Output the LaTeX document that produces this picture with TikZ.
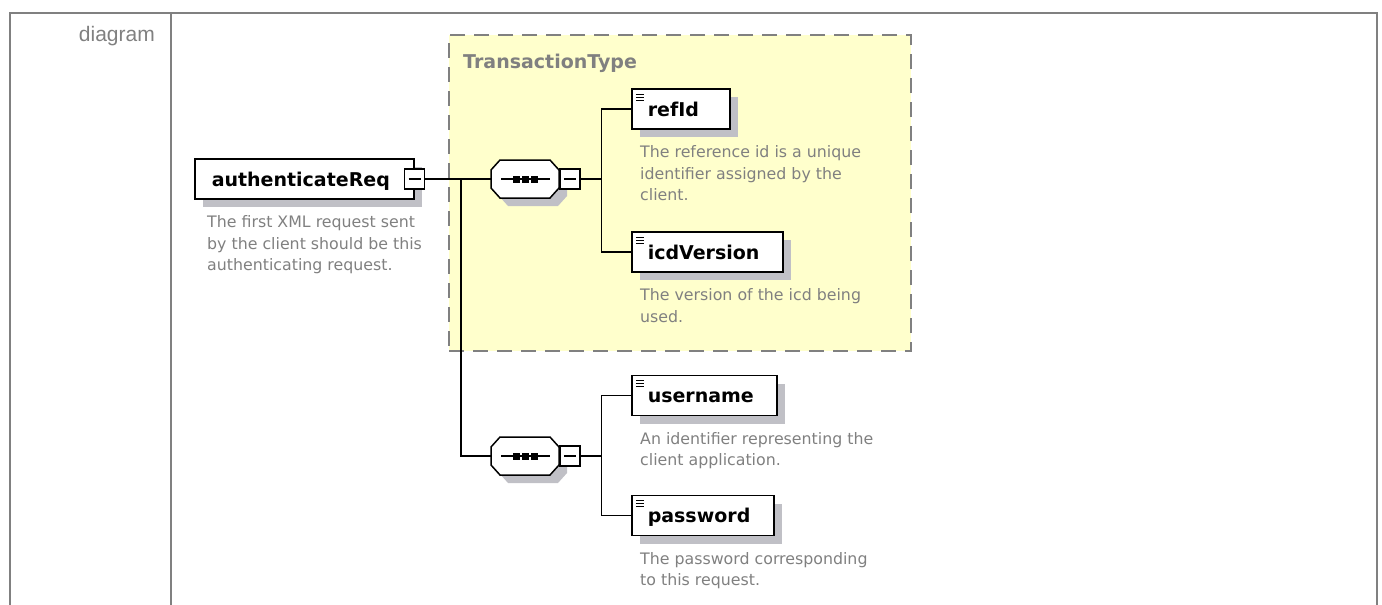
\documentclass[tikz,border=0pt]{standalone}
\usepackage{fontspec}
\setmainfont{DejaVu Sans}
\newfontfamily\cellfont{Liberation Sans}
\usetikzlibrary{shadows,calc}
\definecolor{framegray}{RGB}{128,128,128}
\definecolor{descgray}{RGB}{128,128,128}
\definecolor{shadegray}{RGB}{192,192,198}
\definecolor{typeyellow}{RGB}{255,255,204}

\begin{document}
\begin{tikzpicture}
     [
     x=1pt, y=-1pt,
     wire/.style={draw=black, line width=1.5pt},
     elembox/.style={rectangle, draw=black, line width=1.5pt, fill=white, anchor=west, minimum height=40pt, inner xsep=16pt, align=left, text height=14pt, text depth=0pt, font=\fontsize{19}{22}\selectfont\bfseries, general shadow={fill=shadegray, shadow xshift=8pt, shadow yshift=-8pt}},
     leafbox/.style={elembox, path picture={\foreach \dy in {5,8,11} \draw[line width=1pt] ([xshift=4,yshift=-\dy]path picture bounding box.north west) -- ++(8pt,0pt);}},
     minusbox/.style={rectangle, draw=black, line width=1.5pt, fill=white, minimum size=20pt, inner sep=0pt, path picture={\draw[line width=1.5pt] ([xshift=4]path picture bounding box.west) -- ([xshift=-4]path picture bounding box.east);}},
     seqbox/.style={rectangle, minimum width=68pt, minimum height=38pt, inner sep=0pt},
     desc/.style={anchor=north west, inner sep=0pt, align=left, text=descgray, font=\fontsize{15.8}{21.5}\selectfont},
     typebox/.style={rectangle, draw=framegray, line width=2pt, dash pattern=on 15pt off 9pt, fill=typeyellow, anchor=north west, minimum width=462pt, minimum height=316pt, inner sep=0pt},
     ]
 \useasboundingbox (0,0) rectangle (1382,605);
 \draw[framegray, line width=2pt] (10,605) -- (10,13) -- (1377,13) -- (1377,605);
 \draw[framegray, line width=2pt] (171,13) -- (171,605);
 \node at (155,41) [anchor=base east, inner sep=0pt, text=framegray, font={\cellfont\fontsize{21}{25}\selectfont}] (celllabel) {diagram};

 \node at (448,34) [typebox] (ttype) {};
 \node at ($(ttype.north west)+(15,34)$) [anchor=base west, inner sep=0pt, text=framegray, font=\fontsize{19}{22}\selectfont\bfseries] (ttypetitle) {TransactionType};

 \node at (194,179) [elembox, inner xsep=17pt, text width=185pt] (authreq) {authenticateReq};
 \node at (authreq.east) [minusbox] (authminus) {};
 \node at ($(authreq.south west)+(13,16)$) [desc] (authdesc) {The first XML request sent\\by the client should be this\\authenticating request.};

 \node at (525,179) [seqbox] (seqA) {};
 \node at (525,456) [seqbox] (seqB) {};
 \foreach \s in {seqA,seqB} {
   \begin{scope}[shift={(\s.center)}]
     \fill[shadegray, shift={(8,8)}] (-34,-9) -- (-25,-19) -- (25,-19) -- (34,-9) -- (34,9) -- (25,19) -- (-25,19) -- (-34,9) -- cycle;
     \filldraw[fill=white, draw=black, line width=1.5pt] (-34,-9) -- (-25,-19) -- (25,-19) -- (34,-9) -- (34,9) -- (25,19) -- (-25,19) -- (-34,9) -- cycle;
     \draw[line width=1.5pt] (-24,0) -- (25,0);
     \foreach \dx in {-9,0,9}
       \fill (\dx-3.5,-3.5) rectangle ++(7,7);
   \end{scope}
 }
 \node at (seqA.east) [minusbox, anchor=west] (seqAminus) {};
 \node at (seqB.east) [minusbox, anchor=west] (seqBminus) {};

 \node at (631,109) [leafbox, text width=66pt] (refid) {refId};
 \node at ($(refid.south west)+(9,16)$) [desc] (refiddesc) {The reference id is a unique\\identifier assigned by the\\client.};
 \node at (631,252) [leafbox, text width=119pt] (icdversion) {icdVersion};
 \node at ($(icdversion.south west)+(9,16)$) [desc] (icdversiondesc) {The version of the icd being\\used.};
 \node at (631,395.5) [leafbox, text width=113pt] (username) {username};
 \node at ($(username.south west)+(9,16)$) [desc] (usernamedesc) {An identifier representing the\\client application.};
 \node at (631,515.5) [leafbox, text width=110pt] (password) {password};
 \node at ($(password.south west)+(9,16)$) [desc] (passworddesc) {The password corresponding\\to this request.};

 \coordinate (split) at (461,179);
 \coordinate (forkA) at ($(seqAminus.east)+(21,0)$);
 \coordinate (forkB) at ($(seqBminus.east)+(21,0)$);
 \draw[wire] (authminus) -- (seqA);
 \draw[wire] (split) |- (seqB);
 \draw[wire] (seqAminus) -- (forkA);
 \draw[wire] (seqBminus) -- (forkB);
 \draw[wire] (refid) -| (forkA) |- (icdversion);
 \draw[wire] (username) -| (forkB) |- (password);
 \end{tikzpicture}
\end{document}
